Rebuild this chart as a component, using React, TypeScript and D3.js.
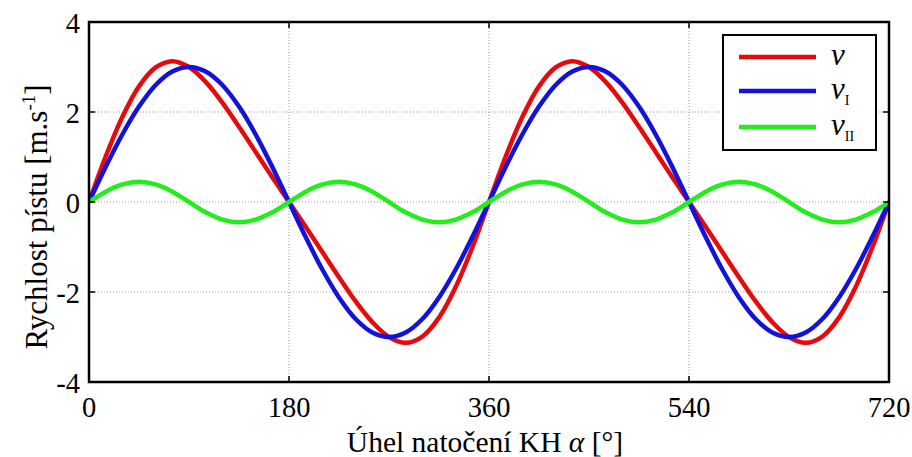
import React from "react";
import * as d3 from "d3";

// angle samples (degrees)
const angles = [
  0, 15, 30, 45, 60, 75, 90, 105, 120, 135, 150, 165, 180, 195, 210, 225, 240, 255, 270, 285, 300, 315, 330, 345,
  360, 375, 390, 405, 420, 435, 450, 465, 480, 495, 510, 525, 540, 555, 570, 585, 600, 615, 630, 645, 660, 675, 690, 705, 720,
];
const vTotal = [
  0, 1.01, 1.89, 2.57, 2.99, 3.13, 3.0, 2.67, 2.21, 1.67, 1.11, 0.55, 0, -0.55, -1.11, -1.67, -2.21, -2.67, -3.0, -3.13, -2.99, -2.57, -1.89, -1.01,
  0, 1.01, 1.89, 2.57, 2.99, 3.13, 3.0, 2.67, 2.21, 1.67, 1.11, 0.55, 0, -0.55, -1.11, -1.67, -2.21, -2.67, -3.0, -3.13, -2.99, -2.57, -1.89, -1.01, 0,
];
const vI = [
  0, 0.78, 1.5, 2.12, 2.6, 2.9, 3.0, 2.9, 2.6, 2.12, 1.5, 0.78, 0, -0.78, -1.5, -2.12, -2.6, -2.9, -3.0, -2.9, -2.6, -2.12, -1.5, -0.78,
  0, 0.78, 1.5, 2.12, 2.6, 2.9, 3.0, 2.9, 2.6, 2.12, 1.5, 0.78, 0, -0.78, -1.5, -2.12, -2.6, -2.9, -3.0, -2.9, -2.6, -2.12, -1.5, -0.78, 0,
];
const vII = [
  0, 0.23, 0.39, 0.45, 0.39, 0.23, 0, -0.23, -0.39, -0.45, -0.39, -0.23, 0, 0.23, 0.39, 0.45, 0.39, 0.23, 0, -0.23, -0.39, -0.45, -0.39, -0.23,
  0, 0.23, 0.39, 0.45, 0.39, 0.23, 0, -0.23, -0.39, -0.45, -0.39, -0.23, 0, 0.23, 0.39, 0.45, 0.39, 0.23, 0, -0.23, -0.39, -0.45, -0.39, -0.23, 0,
];
const xTicks = [0, 180, 360, 540, 720];
const yTicks = [-4, -2, 0, 2, 4];

const series = [
  { name: "v", sub: "", values: vTotal, color: "#e80a0a" },
  { name: "v", sub: "I", values: vI, color: "#1212dc" },
  { name: "v", sub: "II", values: vII, color: "#22ee1c" },
];

const font = "Liberation Serif, DejaVu Serif, Times New Roman, serif";

export default function App() {
  const W = 912, H = 457;
  const L = 89, R = 889, T = 22, B = 382;
  const x = d3.scaleLinear().domain([0, 720]).range([L, R]);
  const y = d3.scaleLinear().domain([-4, 4]).range([B, T]);
  const tick = 6;
  const ts: React.CSSProperties = { fontFamily: font };

  const mkLine = (vals: number[]) =>
    d3
      .line<number>()
      .x((_, i) => x(angles[i]))
      .y((d) => y(d))
      .curve(d3.curveCatmullRom.alpha(0.5))(vals) || "";

  const legX = 723, legY = 35, legW = 153, legH = 115;
  const legRows = [57, 91, 127];

  return (
    <svg width={W} height={H} style={{ position: "absolute", left: 0, top: 0, background: "#fff" }}>
      <rect x={0} y={0} width={W} height={H} fill="#fff" />
      {xTicks.slice(1, -1).map((t) => (
        <line key={"gx" + t} x1={x(t)} x2={x(t)} y1={T} y2={B} stroke="#999" strokeWidth={1} strokeDasharray="1,2" />
      ))}
      {yTicks.slice(1, -1).map((t) => (
        <line key={"gy" + t} x1={L} x2={R} y1={y(t)} y2={y(t)} stroke="#999" strokeWidth={1} strokeDasharray="1,2" />
      ))}
      <defs>
        <clipPath id="clip">
          <rect x={L} y={T - 2} width={R - L} height={B - T + 4} />
        </clipPath>
      </defs>
      <g clipPath="url(#clip)">
        {series.map((s, i) => (
          <path key={i} d={mkLine(s.values)} fill="none" stroke={s.color} strokeWidth={4.5} strokeLinejoin="round" />
        ))}
      </g>
      {xTicks.map((t) => (
        <g key={"xt" + t}>
          <line x1={x(t)} x2={x(t)} y1={B} y2={B - tick} stroke="#000" strokeWidth={1.5} />
          <line x1={x(t)} x2={x(t)} y1={T} y2={T + tick} stroke="#000" strokeWidth={1.5} />
          <text x={x(t)} y={417} textAnchor="middle" style={ts} fontSize={28.5} fill="#000">
            {t}
          </text>
        </g>
      ))}
      {yTicks.map((t) => (
        <g key={"yt" + t}>
          <line x1={L} x2={L + tick} y1={y(t)} y2={y(t)} stroke="#000" strokeWidth={1.5} />
          <line x1={R} x2={R - tick} y1={y(t)} y2={y(t)} stroke="#000" strokeWidth={1.5} />
          <text x={80} y={y(t) + 11} textAnchor="end" style={ts} fontSize={28.5} fill="#000">
            {t}
          </text>
        </g>
      ))}
      <rect x={L} y={T} width={R - L} height={B - T} fill="none" stroke="#000" strokeWidth={2.5} />
      <rect x={legX} y={legY} width={legW} height={legH} fill="#fff" stroke="#000" strokeWidth={2} />
      {series.map((s, i) => (
        <g key={"lg" + i}>
          <line x1={739} x2={816} y1={legRows[i]} y2={legRows[i]} stroke={s.color} strokeWidth={4.5} />
          <text x={831} y={legRows[i] + 8} style={ts} fontSize={31} fontStyle="italic" fill="#000">
            {s.name}
            {s.sub && (
              <tspan dy={6} fontSize={14} fontStyle="normal">
                {s.sub}
              </tspan>
            )}
          </text>
        </g>
      ))}
      <text x={485} y={452} textAnchor="middle" style={ts} fontSize={29.5} fill="#000">
        Úhel natočení KH <tspan fontStyle="italic">α</tspan> [°]
      </text>
      <text
        transform={`translate(47, 217) rotate(-90)`}
        textAnchor="middle"
        style={ts}
        fontSize={31}
        fill="#000"
      >
        Rychlost pístu [m.s<tspan dy={-12} fontSize={19}>-1</tspan>
        <tspan dy={12}>]</tspan>
      </text>
    </svg>
  );
}
